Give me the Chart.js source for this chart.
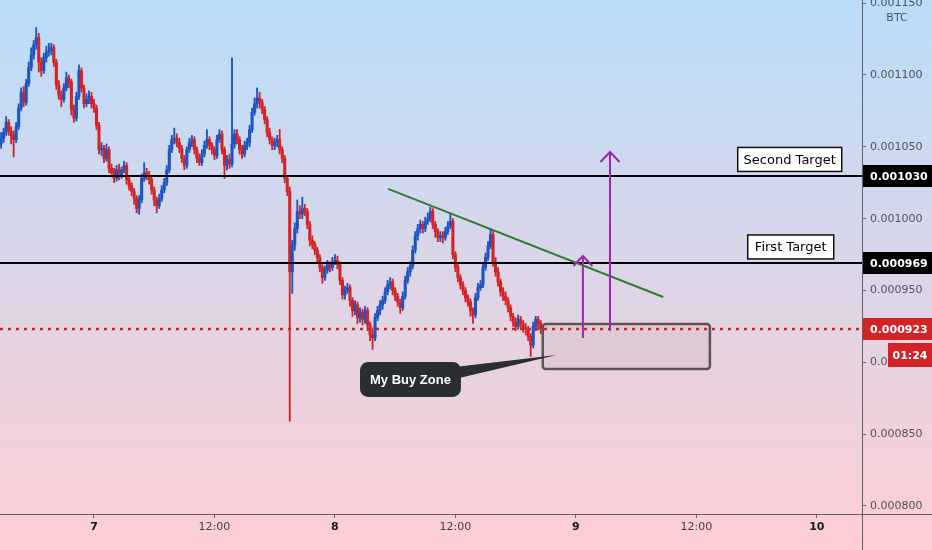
<!DOCTYPE html>
<html>
<head>
<meta charset="utf-8">
<script src="https://cdn.jsdelivr.net/npm/chart.js@4.4.1/dist/chart.umd.min.js"></script>
<style>
  html, body { margin: 0; padding: 0; background: #fff; }
  #wrap { width: 932px; height: 550px; }
</style>
</head>
<body>
<div id="wrap"><canvas id="c" width="932" height="550"></canvas></div>
<script>
// 15 minute candles, prices in µBTC (x 1e-6 BTC)
// time axis: hours from the 7th 00:00, first candle at the 6th 14:45
const startHour = -9.25;
const stepHours = 0.25;
const firstOpen = 1052;

const closes = [
  1056,1060,1067,1061, 1058,1055,1064,1077, 1088,1081,1094,1105, 1114,1121,1126,1109,
  1103,1112,1116,1117, 1119,1109,1093,1086, 1083,1091,1098,1095, 1076,1070,1085,1103,
  1091,1080,1083,1085, 1080,1077,1065,1048, 1049,1042,1048,1035, 1032,1028,1034,1030,
  1034,1037,1027,1023, 1019,1014,1007,1013, 1028,1032,1030,1027, 1020,1013,1009,1014,
  1020,1025,1034,1048, 1055,1056,1053,1049, 1042,1037,1048,1053, 1055,1048,1042,1039,
  1045,1051,1055,1051, 1048,1044,1055,1059, 1048,1037,1041,1038, 1052,1059,1055,1048,
  1045,1051,1053,1062, 1074,1080,1084,1081, 1076,1069,1060,1055, 1051,1053,1055,1048,
  1042,1028,1019,963,  982,993,1005,1003,   1007,1005,996,985,   982,978,973,966,
  959,964,968,966,     970,971,968,957,     947,950,952,943,     936,940,931,935,
  930,936,926,919,     917,931,936,940,     943,949,954,956,     950,946,942,938,
  946,957,963,967,     978,988,993,996,     993,998,1000,1005,   996,991,987,988,
  987,991,995,998,     975,966,959,954,     950,945,942,936,     933,945,952,954,
  966,973,981,989,     970,963,956,949,     946,943,938,932,     928,925,930,927,
  924,923,918,912,     925,930,927,923
];
const highs = [
  1060,1063,1071,1069, 1064,1061,1067,1080, 1091,1092,1097,1109, 1119,1124,1133,1129,
  1112,1115,1120,1122, 1122,1121,1111,1096, 1089,1094,1102,1100, 1097,1079,1088,1107,
  1105,1093,1087,1089, 1088,1083,1079,1067, 1053,1051,1052,1050, 1038,1035,1037,1038,
  1036,1040,1039,1029, 1025,1021,1016,1016, 1031,1039,1035,1033, 1029,1022,1015,1017,
  1023,1028,1037,1051, 1058,1063,1059,1056, 1051,1044,1050,1056, 1058,1057,1050,1045,
  1048,1054,1062,1057, 1053,1050,1058,1062, 1061,1050,1044,1045, 1112,1062,1062,1057,
  1051,1054,1056,1065, 1077,1084,1091,1088, 1083,1078,1071,1063, 1057,1056,1058,1062,
  1050,1044,1030,1022, 985,997,1013,1009,   1015,1010,1007,998,   988,984,980,975,
  968,967,971,970,     973,975,974,970,     959,953,955,954,     945,943,942,938,
  937,939,938,928,     924,934,939,943,     946,952,957,959,     958,952,948,944,
  949,960,966,970,     981,991,996,999,     998,1001,1004,1008,  1007,998,993,991,
  991,994,998,1003,    1000,977,968,961,    956,952,947,944,     938,948,955,957,
  969,976,984,993,     991,973,966,958,     952,949,945,940,     934,931,933,932,
  929,927,925,920,     928,932,932,929
];
const lows = [
  1049,1053,1058,1058, 1052,1043,1053,1062, 1075,1078,1079,1092, 1103,1111,1118,1102,
  1099,1101,1109,1113, 1114,1106,1090,1083, 1078,1081,1089,1091, 1072,1067,1068,1083,
  1088,1077,1078,1080, 1077,1074,1062,1045, 1044,1039,1040,1032, 1029,1025,1026,1027,
  1028,1032,1024,1020, 1016,1010,1004,1003, 1011,1026,1027,1024, 1017,1009,1004,1007,
  1012,1018,1023,1032, 1046,1052,1050,1046, 1039,1034,1035,1046, 1050,1045,1039,1037,
  1037,1043,1049,1048, 1045,1041,1042,1053, 1045,1028,1034,1035, 1036,1049,1052,1045,
  1042,1043,1048,1050, 1060,1072,1077,1077, 1073,1066,1057,1052, 1048,1048,1050,1045,
  1039,1025,1016,859,  948,978,990,1000,    1000,1002,993,981,   979,975,970,963,
  955,957,962,963,     964,968,965,954,     944,944,948,939,     932,933,927,928,
  926,927,922,915,     909,915,929,933,     937,941,947,951,     947,943,939,934,
  936,944,955,960,     965,976,985,990,     990,991,996,998,     993,987,984,984,
  983,985,989,993,     972,963,956,951,     947,942,939,932,     927,931,943,950,
  952,964,971,979,     967,960,953,946,     943,940,935,929,     925,922,923,924,
  921,919,915,904,     910,922,924,920
];

const xTickHours = [0, 12, 24, 36, 48, 60, 72];
const xTickLabels = ['7', '12:00', '8', '12:00', '9', '12:00', '10'];
const yTickValues = [0.0008, 0.00085, 0.0009, 0.00095, 0.001, 0.00105, 0.0011, 0.00115];

const secondTarget = 0.001030;
const firstTarget = 0.000969;
const lastPrice = 0.000923;
const countdown = '01:24';

// drawings, in [hour, price]
const trendLine = [[29.3, 0.0010207], [56.7, 0.0009455]];
const targetArrows = [[48.7, 0.000917, 0.000974], [51.4, 0.000922, 0.0010464]];
const buyZone = [44.7, 61.35, 0.0009267, 0.0008954];
const calloutBox = [26.5, 36.55, 0.0009002, 0.0008759];
const calloutTip = [46.1, 0.0009051];
const targetLabels = [['Second Target', 69.3, 0.0010412, 104], ['First Target', 69.4, 0.0009803, 86]];

const BLUE = '#1c55c0';
const RED = '#d42326';

const times = closes.map((c, i) => startHour + i * stepHours);
const opens = closes.map((c, i) => i === 0 ? firstOpen : closes[i - 1]);
const colors = closes.map((c, i) => c >= opens[i] ? BLUE : RED);
const btc = v => v / 1e6;

const overlay = {
  id: 'overlay',
  beforeDraw(chart) {
    const { ctx, width, height } = chart;
    const g = ctx.createLinearGradient(0, 0, 0, height);
    g.addColorStop(0, '#b9ddfb');
    g.addColorStop(1, '#ffcdd3');
    ctx.save();
    ctx.fillStyle = g;
    ctx.fillRect(0, 0, width, height);
    ctx.restore();
  },
  afterDatasetsDraw(chart) {
    const { ctx, chartArea: a } = chart;
    const X = t => chart.scales.x.getPixelForValue(t);
    const Y = p => chart.scales.y.getPixelForValue(p);
    ctx.save();

    // target levels
    ctx.strokeStyle = '#000';
    ctx.lineWidth = 2;
    [secondTarget, firstTarget].forEach(p => {
      const py = Math.round(Y(p));
      ctx.beginPath();
      ctx.moveTo(a.left, py);
      ctx.lineTo(a.right, py);
      ctx.stroke();
    });

    // buy zone
    const bx0 = X(buyZone[0]), bx1 = X(buyZone[1]);
    const by0 = Y(buyZone[2]), by1 = Y(buyZone[3]);
    ctx.beginPath();
    ctx.roundRect(bx0, by0, bx1 - bx0, by1 - by0, 3);
    ctx.fillStyle = 'rgba(205,185,190,0.35)';
    ctx.fill();
    ctx.strokeStyle = '#5b5557';
    ctx.lineWidth = 2.5;
    ctx.stroke();

    // last price dotted line
    ctx.strokeStyle = RED;
    ctx.lineWidth = 2.5;
    ctx.setLineDash([3, 5]);
    const ly = Math.round(Y(lastPrice));
    ctx.beginPath();
    ctx.moveTo(a.left, ly);
    ctx.lineTo(a.right, ly);
    ctx.stroke();
    ctx.setLineDash([]);

    // trend line
    ctx.strokeStyle = '#2e7d32';
    ctx.lineWidth = 2;
    ctx.beginPath();
    ctx.moveTo(X(trendLine[0][0]), Y(trendLine[0][1]));
    ctx.lineTo(X(trendLine[1][0]), Y(trendLine[1][1]));
    ctx.stroke();

    // arrows to targets
    ctx.strokeStyle = '#9c27b0';
    ctx.lineWidth = 2;
    targetArrows.forEach(([t, p0, p1]) => {
      const ax = X(t), ay0 = Y(p0), ay1 = Y(p1);
      ctx.beginPath();
      ctx.moveTo(ax, ay0);
      ctx.lineTo(ax, ay1);
      ctx.moveTo(ax - 9.5, ay1 + 10);
      ctx.lineTo(ax, ay1);
      ctx.lineTo(ax + 9.5, ay1 + 10);
      ctx.stroke();
    });

    // target labels
    ctx.font = '13px "DejaVu Sans"';
    ctx.textAlign = 'center';
    ctx.textBaseline = 'middle';
    targetLabels.forEach(([txt, t, p, w]) => {
      const cx = X(t), cy = Y(p);
      ctx.fillStyle = '#fff';
      ctx.fillRect(cx - w / 2, cy - 12, w, 24);
      ctx.strokeStyle = '#111';
      ctx.lineWidth = 1.5;
      ctx.strokeRect(cx - w / 2, cy - 12, w, 24);
      ctx.fillStyle = '#000';
      ctx.fillText(txt, cx, cy + 1);
    });

    // callout
    const cx0 = X(calloutBox[0]), cx1 = X(calloutBox[1]);
    const cy0 = Y(calloutBox[2]), cy1 = Y(calloutBox[3]);
    ctx.fillStyle = '#2a2e32';
    ctx.beginPath();
    ctx.moveTo(cx1 - 6, cy0 + 5);
    ctx.lineTo(X(calloutTip[0]), Y(calloutTip[1]));
    ctx.lineTo(cx1 - 6, cy0 + 17);
    ctx.closePath();
    ctx.fill();
    ctx.beginPath();
    ctx.roundRect(cx0, cy0, cx1 - cx0, cy1 - cy0, 8);
    ctx.fill();
    ctx.fillStyle = '#fff';
    ctx.font = 'bold 13px "Liberation Sans"';
    ctx.fillText('My Buy Zone', (cx0 + cx1) / 2, (cy0 + cy1) / 2 + 1);

    ctx.restore();
  },
  afterDraw(chart) {
    const { ctx, chartArea: a, width, height } = chart;
    const Y = p => chart.scales.y.getPixelForValue(p);
    ctx.save();
    // axis lines
    ctx.strokeStyle = '#5f6168';
    ctx.lineWidth = 1;
    ctx.beginPath();
    ctx.moveTo(a.right + 0.5, 0);
    ctx.lineTo(a.right + 0.5, height);
    ctx.moveTo(0, a.bottom + 0.5);
    ctx.lineTo(width, a.bottom + 0.5);
    ctx.stroke();

    ctx.fillStyle = '#50535e';
    ctx.font = '11px "DejaVu Sans"';
    ctx.textAlign = 'center';
    ctx.textBaseline = 'middle';
    ctx.fillText('BTC', 897, 18);

    // price tags
    ctx.font = 'bold 11px "DejaVu Sans"';
    ctx.textAlign = 'left';
    const tag = (p, bg) => {
      const py = Math.round(Y(p));
      ctx.fillStyle = bg;
      ctx.fillRect(a.right + 1, py - 11, width - a.right, 22);
      ctx.fillStyle = '#fff';
      ctx.fillText(p.toFixed(6), a.right + 8, py + 1);
      return py;
    };
    tag(secondTarget, '#000');
    tag(firstTarget, '#000');
    const py = tag(lastPrice, RED);
    ctx.fillStyle = RED;
    ctx.fillRect(888, py + 14, width - 888, 24);
    ctx.fillStyle = '#fff';
    ctx.textAlign = 'center';
    ctx.fillText(countdown, 910, py + 27);
    ctx.restore();
  }
};

new Chart(document.getElementById('c'), {
  type: 'bar',
  data: {
    datasets: [
      {
        label: 'body',
        data: times.map((t, i) => ({ x: t, y: [btc(opens[i]), btc(closes[i])] })),
        backgroundColor: colors,
        barThickness: 2.4,
        minBarLength: 1,
        grouped: false
      },
      {
        label: 'wick',
        data: times.map((t, i) => ({ x: t, y: [btc(lows[i]), btc(highs[i])] })),
        backgroundColor: colors,
        barThickness: 1.2,
        grouped: false
      }
    ]
  },
  options: {
    responsive: false,
    animation: false,
    devicePixelRatio: 1,
    events: [],
    layout: { padding: 0 },
    plugins: { legend: { display: false }, tooltip: { enabled: false } },
    scales: {
      x: {
        type: 'linear',
        position: 'bottom',
        min: -9.36,
        max: 76.5,
        offset: false,
        afterBuildTicks: s => { s.ticks = xTickHours.map(v => ({ value: v })); },
        afterFit: s => { s.height = 36; s.paddingLeft = 0; s.paddingRight = 0; },
        grid: { offset: false, drawOnChartArea: false, drawTicks: true, tickLength: 4, color: '#5f6168' },
        border: { display: false },
        ticks: {
          autoSkip: false,
          maxRotation: 0,
          padding: 3,
          color: ctx => (ctx.tick && ctx.tick.value % 24 === 0) ? '#131722' : '#3b3e46',
          font: ctx => ({ family: 'DejaVu Sans', size: 11, weight: (ctx.tick && ctx.tick.value % 24 === 0) ? 'bold' : 'normal' }),
          callback: v => xTickLabels[xTickHours.indexOf(v)]
        }
      },
      y: {
        type: 'linear',
        position: 'right',
        min: 0.00079443,
        max: 0.00115218,
        afterBuildTicks: s => { s.ticks = yTickValues.map(v => ({ value: v })); },
        afterFit: s => { s.width = 70; s.paddingTop = 0; s.paddingBottom = 0; },
        grid: { drawOnChartArea: false, drawTicks: true, tickLength: 4, color: '#5f6168' },
        border: { display: false },
        ticks: {
          autoSkip: false,
          padding: 4,
          color: '#50535e',
          font: { family: 'DejaVu Sans', size: 11 },
          callback: v => v.toFixed(6)
        }
      }
    }
  },
  plugins: [overlay]
});
</script>
</body>
</html>
